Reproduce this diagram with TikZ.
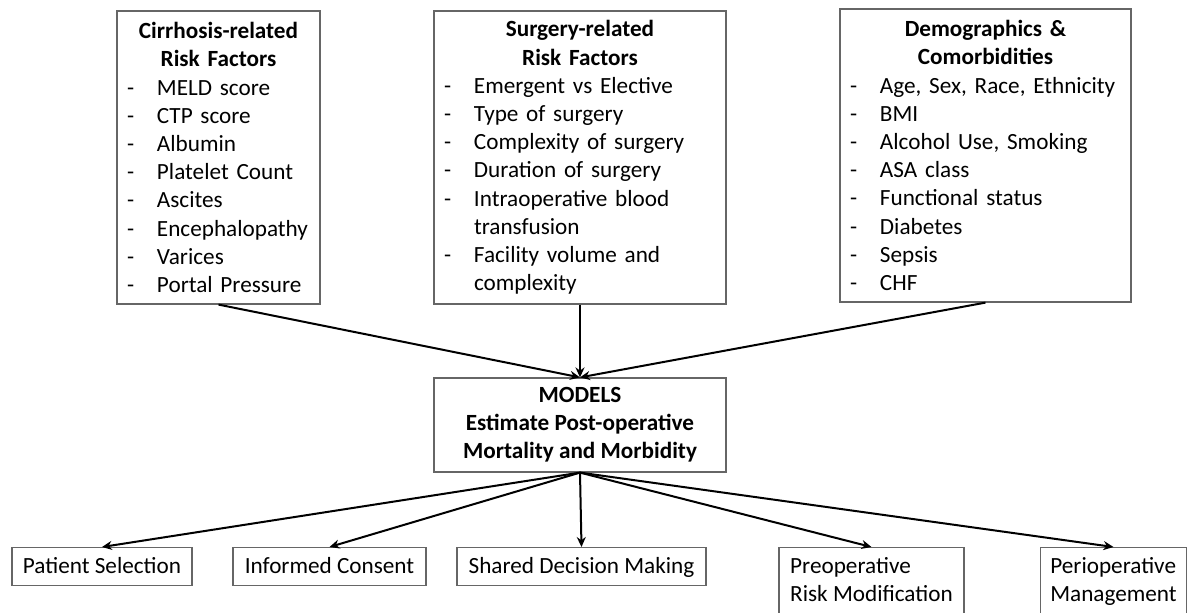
\documentclass[tikz,border=0pt]{standalone}
\usepackage{fontspec}
\setmainfont{Carlito}
\usepackage{tikz}
\usetikzlibrary{arrows.meta}

% Box contents
\newcommand{\boxhead}[1]{{\centering\bfseries #1\par}}
\newcommand{\riskitem}[1]{\noindent\makebox[15pt][l]{-}#1\par}
\newcommand{\riskmore}[1]{\noindent\hspace*{15pt}#1\par}
\newcommand{\ostrut}{\rule[-1.6pt]{0pt}{10.3pt}}

\begin{document}
\begin{tikzpicture}[x=0.5pt, y=-0.5pt,
  every node/.style={font=\fontsize{11.6}{14.1}\selectfont},
  factors/.style={draw=black!60, line width=0.6pt, inner xsep=5pt, inner ysep=0pt,
    align=left, minimum height=146.5pt},
  model/.style={draw=black!60, line width=0.6pt, inner sep=0pt, align=center,
    font=\fontsize{11.6}{14.1}\selectfont\bfseries, minimum width=146pt, minimum height=47pt},
  outcome/.style={draw=black!60, line width=0.6pt, inner xsep=5pt, inner ysep=0pt,
    align=left, anchor=north, minimum height=19pt},
  link/.style={line width=1pt, -{Stealth[length=5pt, width=4.5pt]}}]
  \useasboundingbox (0,0) rectangle (1191,612);

  % Risk factor groups
  \node[factors, text width=91.5pt] (cirrhosis) at (218.5,157.5) {%
    \boxhead{Cirrhosis-related\\Risk Factors}
    \riskitem{MELD score}
    \riskitem{CTP score}
    \riskitem{Albumin}
    \riskitem{Platelet Count}
    \riskitem{Ascites}
    \riskitem{Encephalopathy}
    \riskitem{Varices}
    \riskitem{Portal Pressure}};
  \node[factors, text width=136pt] (surgery) at (580,157.5) {%
    \boxhead{Surgery-related\\Risk Factors}
    \riskitem{Emergent vs Elective}
    \riskitem{Type of surgery}
    \riskitem{Complexity of surgery}
    \riskitem{Duration of surgery}
    \riskitem{Intraoperative blood}
    \riskmore{transfusion}
    \riskitem{Facility volume and}
    \riskmore{complexity}};
  \node[factors, text width=135.5pt] (demo) at (985.5,155.5) {%
    \boxhead{Demographics \&\\Comorbidities}
    \riskitem{Age, Sex, Race, Ethnicity}
    \riskitem{BMI}
    \riskitem{Alcohol Use, Smoking}
    \riskitem{ASA class}
    \riskitem{Functional status}
    \riskitem{Diabetes}
    \riskitem{Sepsis}
    \riskitem{CHF}};

  % Models
  \node[model] (models) at (580,425) {MODELS\\Estimate Post-operative\\Mortality and Morbidity};

  % Uses of the models
  \node[outcome, minimum width=90pt] (select) at (102,547) {\ostrut Patient Selection};
  \node[outcome, minimum width=96.5pt] (consent) at (329.5,547) {\ostrut Informed Consent};
  \node[outcome, minimum width=124.5pt] (shared) at (581.5,547) {\ostrut Shared Decision Making};
  \node[outcome, minimum width=92.5pt, minimum height=33pt] (preop) at (871.5,547)
    {\ostrut Preoperative\\\ostrut Risk Modification};
  \node[outcome, minimum width=72.5pt, minimum height=33pt] (periop) at (1113.5,547)
    {\ostrut Perioperative\\\ostrut Management};

  % Arrows
  \foreach \src in {cirrhosis, surgery, demo}
    \draw[link] (\src.south) -- (models.north);
  \foreach \dst in {select, consent, shared, preop, periop}
    \draw[link] (models.south) -- (\dst.north);
\end{tikzpicture}
\end{document}
